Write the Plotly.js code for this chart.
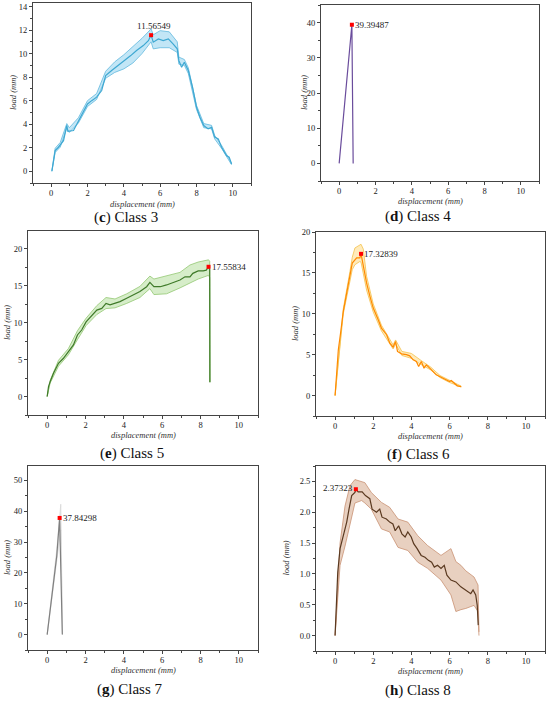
<!DOCTYPE html>
<html><head><meta charset="utf-8">
<script src="https://cdn.plot.ly/plotly-3.0.1.min.js"></script>
<style>html,body{margin:0;padding:0;background:#fff;}#chart{width:550px;height:702px;}</style>
</head><body><div id="chart"></div>
<script>
// ---- Class 3 (c)
var cX = [0.04,0.13,0.22,0.4,0.68,0.86,0.92,1.23,1.5,1.78,2.0,2.23,2.5,2.78,3.0,3.33,3.7,4.07,4.38,4.7,5.07,5.35,5.5,5.62,5.9,6.17,6.45,6.72,6.94,7.03,7.18,7.33,7.55,7.78,8.0,8.19,8.4,8.64,8.83,9.0,9.2,9.38,9.65,9.8,9.93];
var cY = [0,0.9,1.76,2.04,2.6,3.9,3.4,3.46,4.3,5.16,5.72,6.0,6.3,6.86,8.13,8.56,9.0,9.4,9.83,10.26,10.68,11.1,11.57,10.97,11.25,11.1,11.25,10.8,10.4,9.4,8.84,9.27,8.56,7.14,5.44,4.59,3.88,3.6,3.74,2.9,2.75,2.04,1.33,1.2,0.62];
var cBX = [0.04,0.22,0.5,0.86,1.0,1.5,2.0,2.5,3.0,3.5,4.0,4.5,5.0,5.5,5.62,6.0,6.5,6.94,7.03,7.33,7.55,8.0,8.4,8.83,9.0,9.4,9.93];
var cBU = [0.05,1.95,2.45,4.05,3.7,4.55,6.0,6.6,8.5,9.3,9.9,10.6,11.3,12.1,11.6,11.95,11.85,11.0,9.7,9.5,8.8,5.6,4.05,3.9,3.05,2.15,0.68];
var cBL = [0,1.6,2.05,3.65,3.3,4.1,5.5,6.1,7.9,8.4,8.7,9.2,10.0,11.0,10.4,10.5,10.5,10.1,9.1,9.0,8.3,5.25,3.7,3.6,2.75,1.9,0.55];
var cPeak = [5.5, 11.56549];
// ---- Class 4 (d)
var dX = [0,0.7,0.77];
var dY = [0,39.39,0];
var dPeak = [0.7, 39.39487];
// ---- Class 5 (e)
var eX = [0,0.07,0.16,0.33,0.59,0.85,1.11,1.37,1.58,1.8,2.03,2.33,2.59,2.85,3.07,3.28,3.54,3.8,4.15,4.5,4.84,5.19,5.36,5.57,5.9,6.23,6.58,6.93,7.19,7.45,7.6,7.88,8.14,8.3,8.42,8.48,8.49];
var eY = [0,1.35,2.03,3.15,4.5,5.18,6.08,6.98,8.33,9.0,10.1,11.0,11.7,11.93,12.6,12.4,12.6,12.84,13.3,13.74,14.2,14.86,15.45,14.86,14.86,15.1,15.4,15.77,16.2,16.2,16.67,17.0,17.0,17.1,17.56,17.2,1.94];
var eBX = [0,0.16,0.59,1.11,1.58,2.03,2.59,3.07,3.54,4.15,4.84,5.36,5.57,6.23,6.93,7.45,7.88,8.42,8.48,8.49];
var eBU = [0,2.2,4.9,6.5,8.9,10.6,12.3,13.4,13.2,13.9,14.9,16.3,15.9,16.3,16.8,17.8,18.2,18.5,18.3,1.94];
var eBL = [0,1.85,4.1,5.65,7.7,9.6,11.1,11.9,12.0,12.6,13.4,14.6,13.8,13.9,14.7,15.3,15.9,16.4,16.1,1.94];
var ePeak = [8.42, 17.55834];
// ---- Class 6 (f)
var fX = [0,0.09,0.17,0.31,0.43,0.61,0.78,0.9,1.13,1.3,1.36,1.48,1.65,1.83,2.0,2.26,2.43,2.7,2.87,3.04,3.17,3.27,3.48,3.74,3.91,4.09,4.26,4.38,4.52,4.66,4.78,4.96,5.13,5.3,5.48,5.65,5.83,6.0,6.09,6.26,6.4,6.61];
var fY = [0,3.15,5.6,8.05,10.3,12.55,14.6,16.2,16.84,16.84,17.33,15.8,13.77,12.1,10.7,9.28,8.25,7.44,6.4,5.93,6.6,5.4,5.1,5.0,4.86,4.37,4.17,3.56,4.17,3.35,3.76,3.35,2.94,2.53,2.33,2.12,1.92,1.72,1.84,1.43,1.19,1.1];
var fBX = [0,0.43,0.78,0.9,1.04,1.3,1.36,1.48,1.65,2.0,2.43,3.04,3.17,3.5,4.0,4.5,5.0,5.5,6.0,6.61];
var fBU = [0,10.6,15.2,16.9,18.05,18.4,18.5,17.9,14.6,11.2,8.6,6.2,6.8,5.4,5.15,4.3,3.5,2.45,1.85,1.15];
var fBL = [0,10.0,14.0,15.4,16.0,16.4,16.3,15.0,12.9,10.2,7.9,5.7,6.3,4.9,4.55,3.8,3.15,2.2,1.6,1.05];
var fPeak = [1.36, 17.32839];
// ---- Class 7 (g)
var gX = [0,0.5,0.65,0.79];
var gY = [0,25.5,37.84,0];
var gBX = [0,0.5,0.71,0.8];
var gBU = [0,27.5,42.3,0];
var gBL = [0,23.5,34,0];
var gPeak = [0.65, 37.84298];
// ---- Class 8 (h)
var hX = [0,0.05,0.14,0.26,0.43,0.61,0.73,0.87,1.04,1.09,1.21,1.42,1.59,1.82,1.94,2.17,2.34,2.46,2.69,2.86,3.03,3.15,3.33,3.5,3.67,3.81,3.99,4.12,4.3,4.51,4.71,4.89,5.06,5.2,5.37,5.55,5.72,5.86,6.07,6.33,6.59,6.85,7.11,7.23,7.37,7.45,7.5];
var hY = [0,0.49,1.03,1.41,1.62,1.84,2.05,2.27,2.32,2.37,2.33,2.33,2.27,2.22,2.05,2.0,2.05,1.92,1.89,1.84,1.81,1.70,1.78,1.65,1.6,1.68,1.6,1.49,1.41,1.30,1.27,1.22,1.19,1.11,1.14,1.09,1.14,0.98,0.90,0.87,0.79,0.74,0.68,0.74,0.66,0.49,0.17];
var hBX = [0,0.26,0.52,0.78,1.04,1.39,1.56,1.9,2.43,2.86,3.3,3.81,4.33,4.85,5.55,6.07,6.33,6.59,6.85,7.28,7.49,7.54];
var hBU = [0,1.5,2.1,2.43,2.53,2.5,2.48,2.32,2.16,2.08,1.89,1.84,1.62,1.46,1.30,1.41,1.2,1.14,1.05,0.95,0.82,0.06];
var hBL = [0,1.14,1.45,1.8,2.15,2.19,2.15,2.05,1.73,1.68,1.43,1.38,1.19,1.09,0.9,0.66,0.39,0.42,0.44,0.49,0.39,0];
var hPeak = [1.09, 2.37323];

var captions = ['(<b>c</b>) Class 3','(<b>d</b>) Class 4','(<b>e</b>) Class 5','(<b>f</b>) Class 6','(<b>g</b>) Class 7','(<b>h</b>) Class 8'];
var xTitle = '<i>displacement (mm)</i>';
var yTitle = '<i>load (mm)</i>';

var W = 550, H = 702;
var FONT = 'Liberation Serif, Times New Roman, serif';
var panels = [
  {mx:cX,my:cY,bx:cBX,bu:cBU,bl:cBL,pk:cPeak,line:'#3ea8d2',fill:'rgba(120,200,235,0.45)',edge:'#62b9de',
   box:[33,251,3,183],yr:[-1,14.3],dt:2,mdt:1,ann:'top',cap:[126,217.5],xt:20.5,yt:20},
  {mx:dX,my:dY,bx:null,pk:dPeak,line:'#6a4c9c',
   box:[321,539,5,181],yr:[-5,45],dt:10,mdt:5,ann:'right',cap:[418,217],xt:20,yt:17},
  {mx:eX,my:eY,bx:eBX,bu:eBU,bl:eBL,pk:ePeak,line:'#3f7a29',fill:'rgba(165,215,135,0.45)',edge:'#93c872',
   box:[28,258,231,415],yr:[-2.5,22.4],dt:5,mdt:2.5,ann:'right',cap:[132,453],xt:20,yt:21},
  {mx:fX,my:fY,bx:fBX,bu:fBU,bl:fBL,pk:fPeak,line:'#ff8a00',fill:'rgba(255,215,120,0.5)',edge:'#f4c24c',
   box:[316,545,232,416],yr:[-2.5,20],dt:5,mdt:2.5,ann:'right',cap:[418,454],xt:20,yt:21},
  {mx:gX,my:gY,bx:gBX,bu:gBU,bl:gBL,pk:gPeak,line:'#808080',fill:'rgba(205,205,205,0.5)',edge:'#d8d8d8',
   box:[28,258,466,650],yr:[-5,54.7],dt:10,mdt:5,ann:'right',cap:[130,689],xt:20,yt:21},
  {mx:hX,my:hY,bx:hBX,bu:hBU,bl:hBL,pk:hPeak,line:'#5a3920',fill:'rgba(205,150,115,0.45)',edge:'#c99273',
   box:[316,545,466,651],yr:[-0.25,2.75],dt:0.5,mdt:0.25,ann:'left',cap:[418,690],xt:20,yt:31}
];

var traces = [], layout = {
  width: W, height: H, margin:{l:0,r:0,t:0,b:0}, showlegend:false,
  paper_bgcolor:'#fff', plot_bgcolor:'#fff', font:{family:FONT,size:8.5,color:'#222'},
  annotations:[]
};
panels.forEach(function(p, i){
  var n = i+1, xa = 'x'+(n===1?'':n), ya = 'y'+(n===1?'':n);
  if (p.bx) {
    traces.push({x:p.bx,y:p.bl,xaxis:xa,yaxis:ya,mode:'lines',line:{color:p.edge,width:0.8},hoverinfo:'skip'});
    traces.push({x:p.bx,y:p.bu,xaxis:xa,yaxis:ya,mode:'lines',line:{color:p.edge,width:0.8},fill:'tonexty',fillcolor:p.fill,hoverinfo:'skip'});
  }
  traces.push({x:p.mx,y:p.my,xaxis:xa,yaxis:ya,mode:'lines',line:{color:p.line,width:1.2}});
  traces.push({x:[p.pk[0]],y:[p.pk[1]],xaxis:xa,yaxis:ya,mode:'markers',marker:{color:'#ff0000',size:4,symbol:'square'}});
  var axBase = {showline:true,mirror:true,linecolor:'#444',linewidth:1,showgrid:false,zeroline:false,
    ticks:'outside',ticklen:3,tickwidth:1,tickcolor:'#444',
    tickfont:{family:FONT,size:8.5,color:'#222'},
    minor:{ticks:'outside',ticklen:2,tickcolor:'#444',tickwidth:1}};
  layout['xaxis'+(n===1?'':n)] = Object.assign({}, axBase, {
    domain:[p.box[0]/W, p.box[1]/W], anchor:ya, range:[-1,11], dtick:2, tick0:0,
    ticklabelstandoff:-1,
    minor:Object.assign({}, axBase.minor, {dtick:1})
  });
  layout['yaxis'+(n===1?'':n)] = Object.assign({}, axBase, {
    domain:[1-p.box[3]/H, 1-p.box[2]/H], anchor:xa, range:p.yr, dtick:p.dt, tick0:0,
    minor:Object.assign({}, axBase.minor, {dtick:p.mdt}),
    tickformat: p.dt<1 ? '.1f' : ''
  });
  // axis titles
  layout.annotations.push({xref:'paper',yref:'paper',x:(p.box[0]+p.box[1])/2/W,y:1-(p.box[3]+p.xt)/H,
    xanchor:'center',yanchor:'middle',text:xTitle,showarrow:false,font:{family:FONT,size:8.5,color:'#333'}});
  layout.annotations.push({xref:'paper',yref:'paper',x:(p.box[0]-p.yt)/W,y:1-(p.box[2]+p.box[3])/2/H,
    xanchor:'center',yanchor:'middle',textangle:-90,text:yTitle,showarrow:false,font:{family:FONT,size:8.5,color:'#333'}});
  var a = {xref:xa,yref:ya,x:p.pk[0],y:p.pk[1],text:String(p.pk[1]),showarrow:false,
           font:{family:FONT,size:9,color:'#222'}};
  if (p.ann==='top') { a.xanchor='center'; a.yanchor='bottom'; a.yshift=2; a.xshift=3; }
  else if (p.ann==='right') { a.xanchor='left'; a.yanchor='middle'; a.xshift=1; }
  else { a.xanchor='right'; a.yanchor='middle'; a.xshift=-1; a.yshift=1; }
  layout.annotations.push(a);
  layout.annotations.push({xref:'paper',yref:'paper',x:p.cap[0]/W,y:1-p.cap[1]/H,xanchor:'center',yanchor:'middle',
    text:captions[i],showarrow:false,font:{family:FONT,size:15,color:'#111'}});
});
Plotly.newPlot('chart', traces, layout, {staticPlot:true});
</script></body></html>
